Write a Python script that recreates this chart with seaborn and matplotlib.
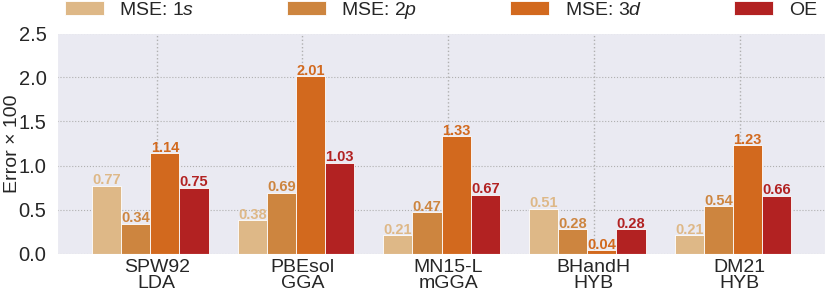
import matplotlib
matplotlib.use("Agg")
import matplotlib.pyplot as plt
import seaborn as sns
import pandas as pd

# values
methods = ["SPW92\nLDA", "PBEsol\nGGA", "MN15-L\nmGGA", "BHandH\nHYB", "DM21\nHYB"]
series = ["MSE: 1$s$", "MSE: 2$p$", "MSE: 3$d$", "OE"]
mse_1s = [0.77, 0.38, 0.21, 0.51, 0.21]
mse_2p = [0.34, 0.69, 0.47, 0.28, 0.54]
mse_3d = [1.14, 2.01, 1.33, 0.04, 1.23]
oe = [0.75, 1.03, 0.67, 0.28, 0.66]
colors = ["#DEB887", "#CD853F", "#D2691E", "#B22222"]

rows = []
for name, vals in zip(series, [mse_1s, mse_2p, mse_3d, oe]):
    for m, v in zip(methods, vals):
        rows.append({"method": m, "series": name, "value": v})
df = pd.DataFrame(rows)

sns.set_style("darkgrid", {"grid.color": "#b0b0b0", "grid.linestyle": ":"})
plt.rcParams["font.family"] = ["Liberation Sans", "DejaVu Sans"]
plt.rcParams["mathtext.fontset"] = "custom"
plt.rcParams["mathtext.rm"] = "Liberation Sans"
plt.rcParams["mathtext.it"] = "Liberation Sans:italic"

fig = plt.figure(figsize=(8.3, 2.95), dpi=100)
ax = fig.add_axes([0.0687, 0.139, 0.925, 0.749])

sns.barplot(data=df, x="method", y="value", hue="series", palette=colors,
            edgecolor="white", linewidth=0.6, saturation=1, ax=ax)

for cont, c in zip(ax.containers, colors):
    ax.bar_label(cont, fmt="%.2f", color=c, fontsize=10.5, fontweight="bold", padding=-1)

handles, labels = ax.get_legend_handles_labels()
ax.legend(handles, labels, loc="lower left", bbox_to_anchor=(0.0, 1.02, 1.0, 0.1),
          mode="expand", ncol=4, frameon=False, fontsize=14, borderaxespad=0)

ax.set_xticks([i + 0.045 for i in range(len(methods))])
ax.set_xticklabels(methods, fontsize=14, linespacing=0.95)
ax.tick_params(axis="y", labelsize=14.5, pad=4)
ax.tick_params(axis="x", pad=0)
ax.set_xlim(-0.64, 4.63)
ax.set_ylim(0, 2.5)
ax.set_yticks([0, 0.5, 1.0, 1.5, 2.0, 2.5])
ax.set_xlabel("")
ax.set_ylabel("Error × 100", fontsize=14)
ax.yaxis.set_label_coords(-0.047, 0.5)

# seaborn switches off the grid on the categorical axis; the reference keeps it
ax.xaxis.grid(True, which="major", linestyle=":", color="#b0b0b0", linewidth=1)
ax.set_axisbelow(True)

fig.savefig("out.png", dpi=100)
